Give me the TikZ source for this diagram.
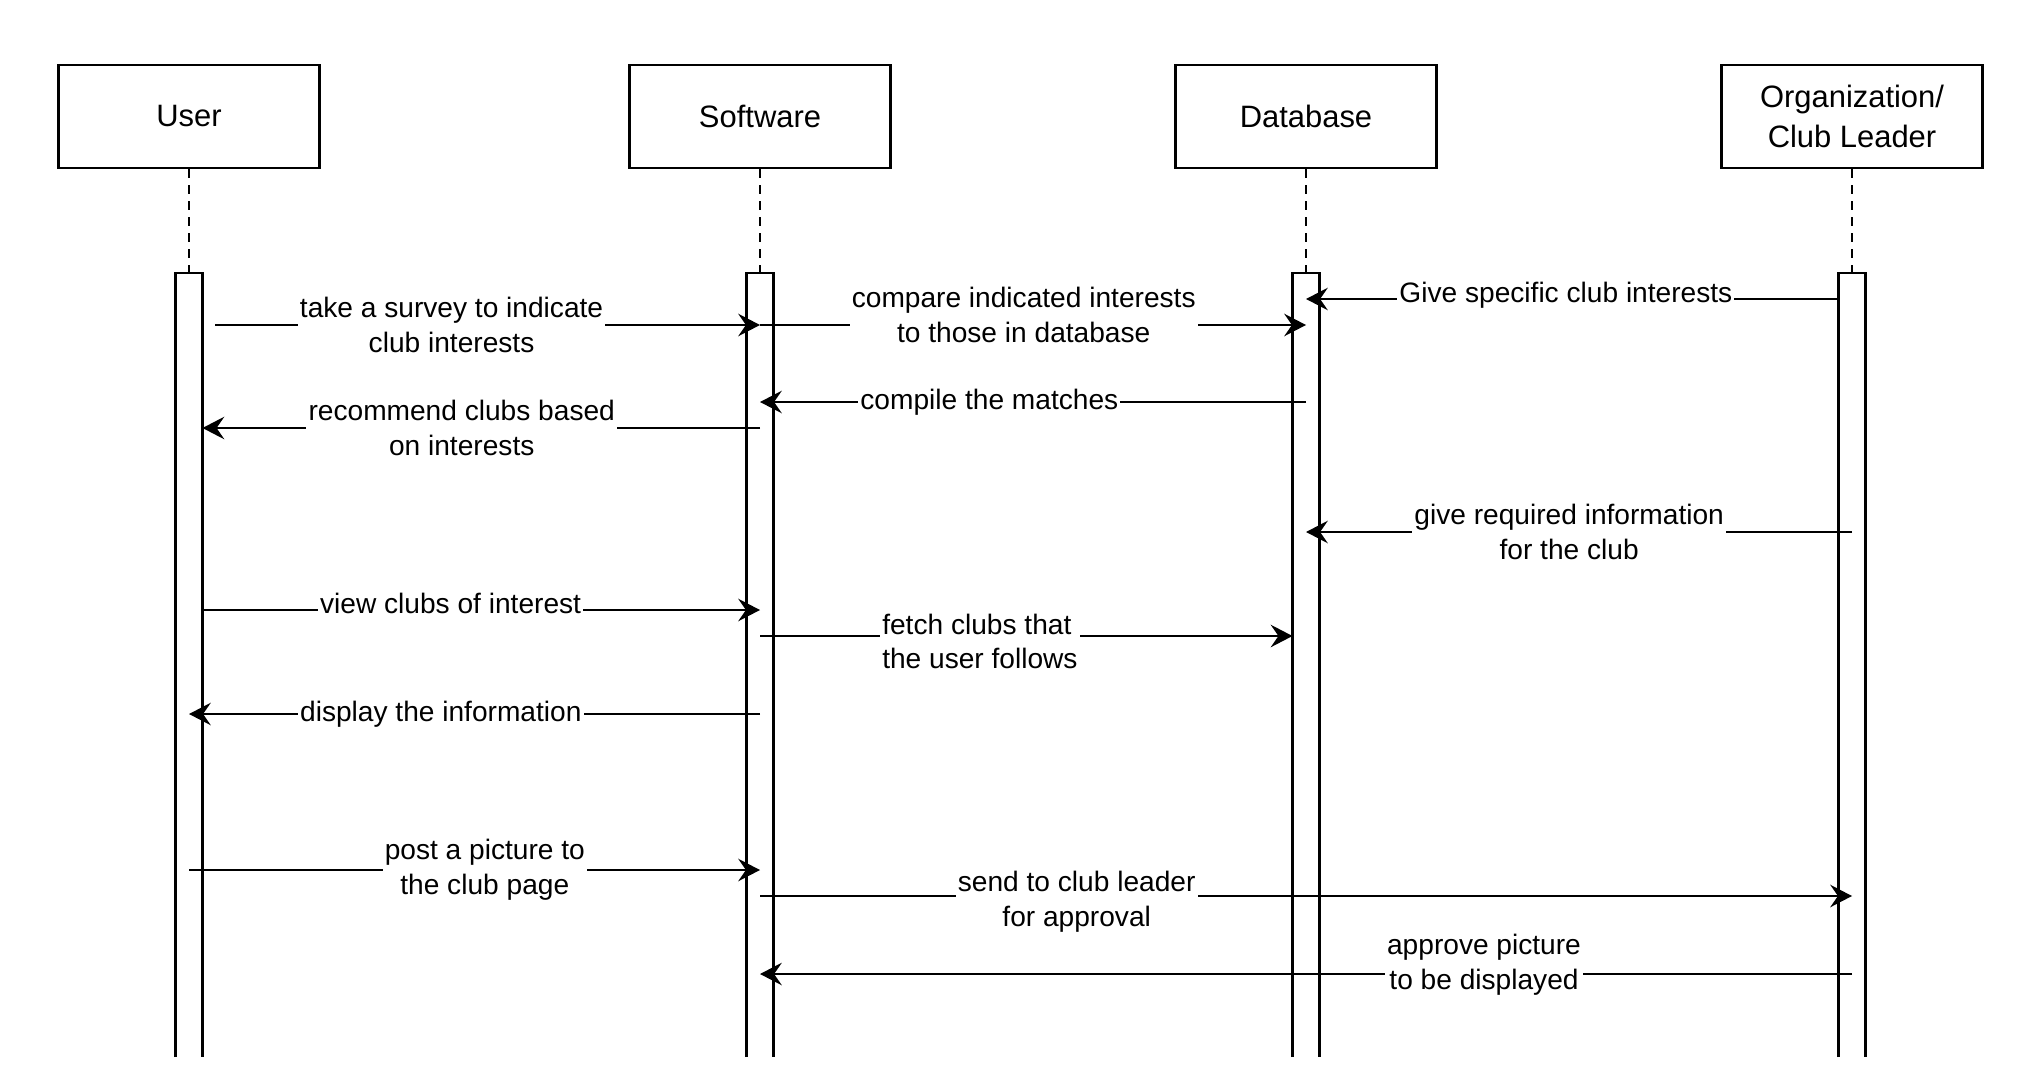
\documentclass[tikz,border=0pt]{standalone}
\usepackage{fontspec}
\setmainfont{Liberation Sans}
\usetikzlibrary{arrows.meta}

\begin{document}
\begin{tikzpicture}[x=0.1mm,y=-0.1mm,
   actor/.style={draw=black,line width=0.8pt,minimum width=26.1mm,minimum height=10.3mm,align=center,inner sep=0,font=\fontsize{8.8}{11.3}\selectfont},
   lifeline/.style={draw=black,line width=0.5pt,dash pattern=on 0.9mm off 0.7mm},
   actbar/.style={draw=black,line width=0.65pt},
   msg/.style={draw=black,line width=0.6pt,-{Stealth[length=6.2pt,width=6.4pt,inset=2.2pt]}},
   msglabel/.style={fill=white,inner sep=0.6pt,align=center,font=\fontsize{8}{9.9}\selectfont}
  ]
  \useasboundingbox (0,0) rectangle (2028,1076);
  \node[actor] (user) at (189,116.5) {User};
  \node[actor] (soft) at (760,116.5) {Software};
  \node[actor] (db) at (1306,116.5) {Database};
  \node[actor] (org) at (1852,116.5) {Organization/\\Club Leader};
  \foreach \n in {user,soft,db,org} {
    \draw[lifeline] (\n.south) -- (\n |- 0,273);
    \draw[actbar] ([xshift=-1.35mm]\n |- 0,1057) |- ([xshift=1.35mm]\n |- 0,273) -- ([xshift=1.35mm]\n |- 0,1057);
  }
  \draw[msg] ([xshift=2.6mm]user |- 0,325) -- node[msglabel,pos=0.434]{take a survey to indicate\\club interests} (soft |- 0,325);
  \draw[msg] (soft |- 0,325) -- node[msglabel,pos=0.483,yshift=1mm]{compare indicated interests\\to those in database} (db |- 0,325);
  \draw[msg] ([xshift=-1.35mm]org |- 0,299) -- node[msglabel,pos=0.512,yshift=0.4mm]{Give specific club interests} (db |- 0,299);
  \draw[msg] (db |- 0,402) -- node[msglabel,pos=0.58]{compile the matches} (soft |- 0,402);
  \draw[msg] (soft |- 0,428) -- node[msglabel,pos=0.535]{recommend clubs based\\on interests} ([xshift=1.35mm]user |- 0,428);
  \draw[msg] (org |- 0,532) -- node[msglabel,pos=0.518]{give required information\\for the club} (db |- 0,532);
  \draw[msg] ([xshift=1.35mm]user |- 0,610) -- node[msglabel,pos=0.445,yshift=0.7mm]{view clubs of interest} (soft |- 0,610);
  \draw[msg] (soft |- 0,636) -- node[msglabel,pos=0.413,yshift=-0.55mm,align=left]{fetch clubs that\\the user follows} ([xshift=-1.35mm]db |- 0,636);
  \draw[msg] (soft |- 0,714) -- node[msglabel,pos=0.559]{display the information} (user |- 0,714);
  \draw[msg] (user |- 0,870) -- node[msglabel,pos=0.518]{post a picture to\\the club page} (soft |- 0,870);
  \draw[msg] (soft |- 0,896) -- node[msglabel,pos=0.29,yshift=-0.55mm]{send to club leader\\for approval} (org |- 0,896);
  \draw[msg] (org |- 0,974) -- node[msglabel,pos=0.337,yshift=0.9mm]{approve picture\\to be displayed} (soft |- 0,974);
\end{tikzpicture}
\end{document}
